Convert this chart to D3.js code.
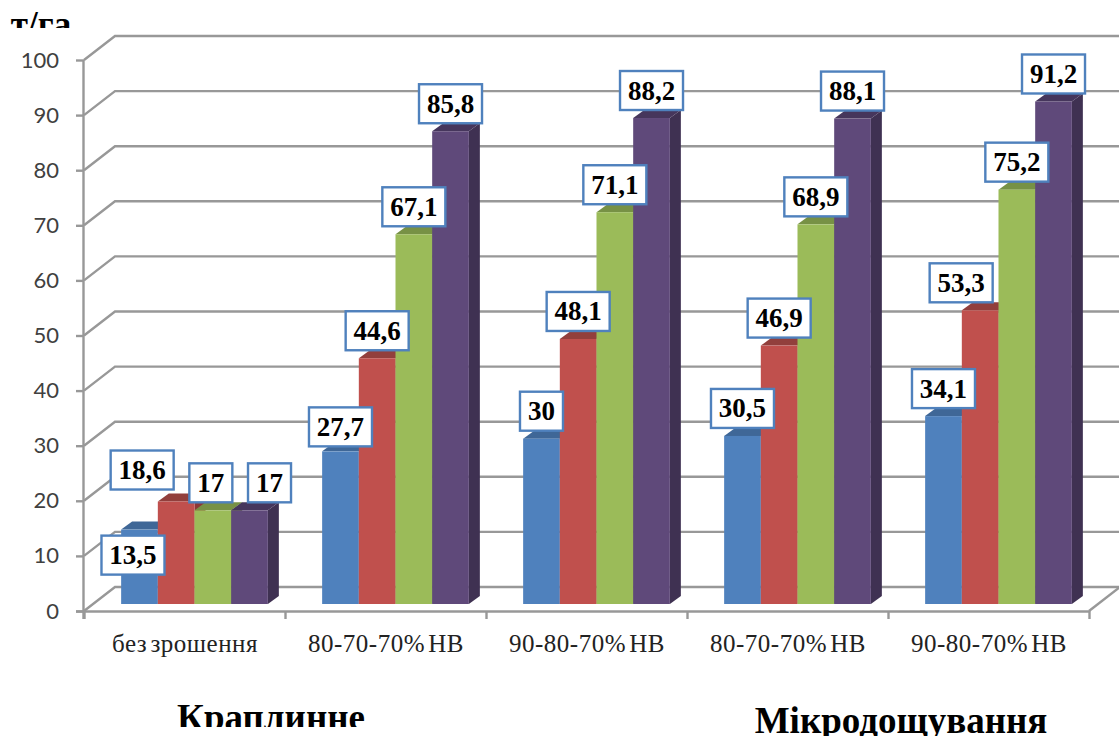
<!DOCTYPE html>
<html lang="uk">
<head>
<meta charset="utf-8">
<title>Урожайність, т/га</title>
<script src="https://cdn.jsdelivr.net/npm/d3@7"></script>
<style>
  html, body { margin: 0; padding: 0; background: #fff; overflow: hidden; }
  svg { display: block; }
</style>
</head>
<body>
<div id="chart"></div>
<script>
// Values per irrigation regime, four harvest years in each
const categories = ["без зрошення", "80-70-70% НВ", "90-80-70% НВ", "80-70-70% НВ", "90-80-70% НВ"];
const series1 = [13.5, 27.7, 30, 30.5, 34.1];
const series2 = [18.6, 44.6, 48.1, 46.9, 53.3];
const series3 = [17, 67.1, 71.1, 68.9, 75.2];
const series4 = [17, 85.8, 88.2, 88.1, 91.2];
const yTicks = [0, 10, 20, 30, 40, 50, 60, 70, 80, 90, 100];

const allSeries = [series1, series2, series3, series4];
const fills = [
  { front: "#4f81bd", side: "#385d8a", top: "#3f6797" },
  { front: "#c0504d", side: "#8c3836", top: "#923f3c" },
  { front: "#9bbb59", side: "#71893f", top: "#779145" },
  { front: "#5f497a", side: "#3f3152", top: "#46365c" }
];

const width = 1119, height = 736;
const floor = { dx: 31, dy: -24 };   // offset from the front axis plane to the back wall
const bar3d = { dx: 11, dy: -8 };    // visible depth of one column
const inset = { dx: 10, dy: -7 };    // where columns stand on the floor

const svg = d3.select("#chart").append("svg").attr("width", width).attr("height", height);

const x = d3.scaleBand().domain(d3.range(categories.length)).range([84, 1089]);
const inner = d3.scaleBand().domain(d3.range(allSeries.length))
  .range([0, x.bandwidth()]).paddingOuter(0.74).paddingInner(0);
const y = d3.scaleLinear().domain([0, 100]).range([611, 60]);

// Gridlines: a slanted run on the side wall, then along the back wall
const grey = "#989898";
const lineWidth = 2.4;
const grid = svg.append("g").attr("fill", "none").attr("stroke", grey).attr("stroke-width", lineWidth);
grid.selectAll("path").data(yTicks).join("path")
  .attr("d", v => {
    const line = d3.path();
    line.moveTo(x.range()[0], y(v));
    line.lineTo(x.range()[0] + floor.dx, y(v) + floor.dy);
    line.lineTo(x.range()[1] + floor.dx, y(v) + floor.dy);
    return line.toString();
  });
// Right edge of the floor
grid.append("line")
  .attr("x1", x.range()[1]).attr("y1", y(0))
  .attr("x2", x.range()[1] + floor.dx).attr("y2", y(0) + floor.dy);

// Columns, drawn left to right so each overlaps the side of the previous one
const columns = svg.append("g");
categories.forEach((cat, g) => {
  allSeries.forEach((vals, s) => {
    const v = vals[g];
    const x0 = x(g) + inner(s) + inset.dx;
    const w = inner.bandwidth();
    const yTop = y(v) + inset.dy;
    const yBase = y(0) + inset.dy;
    const c = fills[s];
    const col = columns.append("g");
    col.append("path").attr("fill", c.side)
      .attr("d", `M${x0 + w},${yTop}l${bar3d.dx},${bar3d.dy}V${yBase + bar3d.dy}l${-bar3d.dx},${-bar3d.dy}Z`);
    col.append("path").attr("fill", c.top)
      .attr("d", `M${x0},${yTop}l${bar3d.dx},${bar3d.dy}h${w}l${-bar3d.dx},${-bar3d.dy}Z`);
    col.append("rect").attr("fill", c.front)
      .attr("x", x0).attr("y", yTop).attr("width", w).attr("height", yBase - yTop);
  });
});

// Axes
const yAxis = d3.axisLeft(y).tickValues(yTicks).tickSize(8).tickPadding(17).tickFormat(d3.format("d"));
const gy = svg.append("g").attr("transform", `translate(${x.range()[0]},0)`).call(yAxis);
gy.selectAll("text").attr("font-family", "Lato, 'Open Sans', sans-serif").attr("font-size", 22).attr("fill", "#404040");

const xAxis = d3.axisBottom(d3.scaleLinear().domain([0, categories.length]).range(x.range()))
  .tickValues(d3.range(categories.length + 1)).tickSize(8).tickFormat("");
const gx = svg.append("g").attr("transform", `translate(0,${y(0)})`).call(xAxis);
[gy, gx].forEach(a => {
  a.selectAll("line").attr("stroke", grey).attr("stroke-width", lineWidth);
  a.select(".domain").attr("stroke", grey).attr("stroke-width", lineWidth);
});
gx.select(".domain").attr("d", `M${x.range()[0] - 8},0.5H${x.range()[1]}`);
gy.select(".domain").attr("d", `M-0.5,${y(100)}V${y(0) + 8}`);

// Category labels
svg.append("g").selectAll("text").data(categories).join("text")
  .attr("x", (d, i) => x(i) + x.bandwidth() / 2 + 0.5)
  .attr("y", 652)
  .attr("text-anchor", "middle")
  .attr("font-family", "'Liberation Serif', serif")
  .attr("font-size", 25)
  .attr("word-spacing", -3.5)
  .attr("letter-spacing", 0.5)
  .attr("fill", "#222")
  .text(d => d);

// Value labels in outlined boxes; some are nudged off their columns by hand
const nudges = {
  "0,0": [-6.5, 53],
  "0,1": [-34, -4],
  "0,2": [-2, 0],
  "0,3": [20, 0],
  "1,0": [0, 3],
  "4,1": [-19, 0]
};
const labels = svg.append("g");
categories.forEach((cat, g) => {
  allSeries.forEach((vals, s) => {
    const v = vals[g];
    const text = String(v).replace(".", ",");
    const boxW = text.length > 2 ? 63 : 43;
    const boxH = 39;
    const nudge = nudges[`${g},${s}`] || [0, 0];
    const cx = x(g) + inner(s) + inset.dx + inner.bandwidth() / 2 + nudge[0];
    const cy = y(v) + inset.dy + bar3d.dy - boxH / 2 + nudge[1];
    labels.append("rect")
      .attr("x", cx - boxW / 2).attr("y", cy - boxH / 2)
      .attr("width", boxW).attr("height", boxH)
      .attr("fill", "#fff").attr("stroke", "#4f81bd").attr("stroke-width", 2.4);
    labels.append("text")
      .attr("x", cx).attr("y", cy + 9)
      .attr("text-anchor", "middle")
      .attr("font-family", "'Liberation Serif', serif")
      .attr("font-weight", "bold").attr("font-size", 27)
      .attr("fill", "#000")
      .text(text);
  });
});

// Headings, cut off along the same lines as their text boxes
const defs = svg.append("defs");
defs.append("clipPath").attr("id", "clip-unit").append("rect")
  .attr("x", 0).attr("y", 0).attr("width", 200).attr("height", 28);
defs.append("clipPath").attr("id", "clip-drip").append("rect")
  .attr("x", 100).attr("y", 680).attr("width", 400).attr("height", 47);

const heading = (label, px, py, size, clip) => svg.append("text")
  .attr("x", px).attr("y", py)
  .attr("text-anchor", "middle")
  .attr("font-family", "'Liberation Serif', serif")
  .attr("font-weight", "bold").attr("font-size", size)
  .attr("fill", "#000")
  .attr("clip-path", clip ? `url(#${clip})` : null)
  .text(label);

heading("т/га", 41, 36, 35, "clip-unit");
heading("Краплинне", 271, 730, 37, "clip-drip");
heading("Мікродощування", 901, 733, 37, null);
</script>
</body>
</html>
